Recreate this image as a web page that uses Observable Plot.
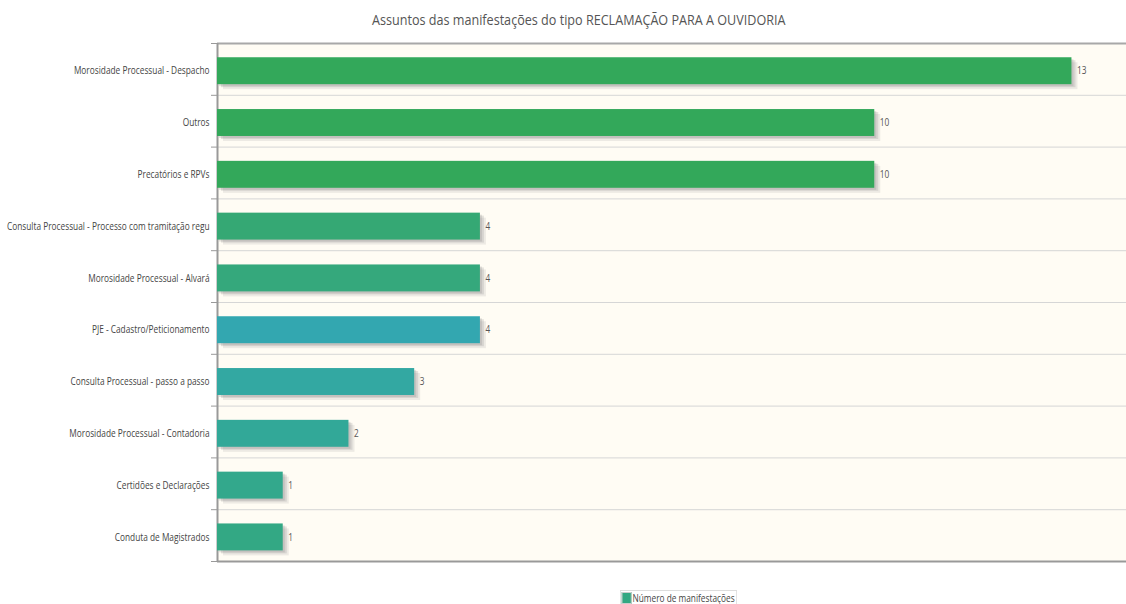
<!DOCTYPE html>
<html>
<head>
<meta charset="utf-8">
<script src="https://cdn.jsdelivr.net/npm/d3@7"></script>
<script src="https://cdn.jsdelivr.net/npm/@observablehq/plot@0.6"></script>
<style>
  body { margin: 0; background: #fff; width: 1126px; height: 604px; overflow: hidden; }
  #title { height: 38px; line-height: 40px; text-align: center; padding-left: 32px; box-sizing: border-box;
           font-family: "Open Sans", sans-serif; font-size: 14px; color: #555; }
  #title span { display: inline-block; transform: scaleX(0.9); white-space: nowrap; }
  #chart svg { display: block; }
  #legend { margin-top: 12px; padding-left: 232px; text-align: center; font-family: "Open Sans", sans-serif; font-size: 10px; color: #444; }
  #legend .item { display: inline-block; border: 1px solid #ddd; padding: 1px 2px 1px 1px; line-height: 12px; transform: scaleX(0.83); white-space: nowrap; }
  #legend .sw { display: inline-block; width: 10px; height: 10px; vertical-align: -2px; margin-right: 1px; border: 1px solid #ccc; }
</style>
</head>
<body>
<div id="title"><span>Assuntos das manifestações do tipo RECLAMAÇÃO PARA A OUVIDORIA</span></div>
<div id="chart"></div>
<div id="legend"></div>
<script>
const categories = [
  "Morosidade Processual - Despacho",
  "Outros",
  "Precatórios e RPVs",
  "Consulta Processual - Processo com tramitação regu",
  "Morosidade Processual - Alvará",
  "PJE - Cadastro/Peticionamento",
  "Consulta Processual - passo a passo",
  "Morosidade Processual - Contadoria",
  "Certidões e Declarações",
  "Conduta de Magistrados"
];
const values = [13, 10, 10, 4, 4, 4, 3, 2, 1, 1];
const colors = ["#33a85a", "#33a85a", "#33a85a", "#35a874", "#35a87c", "#33a7b0", "#33a8a2", "#32a898", "#33a88c", "#33a884"];
const seriesName = "Número de manifestações";
const legendColor = "#33a882";

const data = categories.map((c, i) => ({category: c, value: values[i], color: colors[i], idx: i}));
const xMax = 13.83;
const font = '"Open Sans", sans-serif';
const narrow = 0.83;
const barTop = d => d.idx + 0.275;
const barBot = d => d.idx + 0.795;
const barMid = d => d.idx + 0.535;

const chart = Plot.plot({
  width: 1126,
  height: 540,
  marginLeft: 217,
  marginRight: 0,
  marginTop: 5,
  marginBottom: 17,
  style: {fontFamily: font, fontSize: "10px", color: "#444", background: "transparent"},
  x: {domain: [0, xMax], axis: null},
  y: {domain: [0, categories.length], reverse: true, axis: null},
  marks: [
    Plot.rect([0], {x1: 0, x2: xMax, y1: 0, y2: categories.length, fill: "#fffcf4"}),
    Plot.gridY(d3.range(1, categories.length), {stroke: "#d6d6d6", strokeOpacity: 1, strokeWidth: 1}),
    Plot.axisY(d3.range(0, categories.length + 1), {tickSize: 6, tickFormat: () => "", stroke: "#999"}),
    Plot.ruleY([0], {stroke: "#a8a8a8", strokeWidth: 2}),
    Plot.ruleY([categories.length], {stroke: "#999", strokeWidth: 2}),
    Plot.ruleX([0], {stroke: "#999", strokeWidth: 2}),
    // shadows
    Plot.rectX(data, {x1: 0, x2: "value", y1: barTop, y2: barBot, fill: "#999", fillOpacity: 0.18, dx: 6, dy: 5}),
    Plot.rectX(data, {x1: 0, x2: "value", y1: barTop, y2: barBot, fill: "#888", fillOpacity: 0.22, dx: 4, dy: 3}),
    Plot.rectX(data, {x1: 0, x2: "value", y1: barTop, y2: barBot, fill: "#777", fillOpacity: 0.2, dx: 2, dy: 2}),
    // bars
    Plot.rectX(data, {x1: 0, x2: "value", y1: barTop, y2: barBot, fill: "color"}),
    // category labels
    Plot.text(data, {x: 0, y: barMid, text: "category", textAnchor: "end", dx: -8, fill: "#444", fontSize: 10, className: "catlabel"}),
    // value labels
    Plot.text(data, {x: "value", y: barMid, text: d => String(d.value), textAnchor: "start", dx: 5, fill: "#555", fontSize: 10, className: "vallabel"})
  ]
});
document.getElementById("chart").appendChild(chart);

// condense the label glyphs to mimic the narrow original typeface
chart.querySelectorAll(".catlabel text, .vallabel text").forEach(t => {
  const len = t.getComputedTextLength();
  t.setAttribute("textLength", (len * narrow).toFixed(1));
  t.setAttribute("lengthAdjust", "spacingAndGlyphs");
});

document.getElementById("legend").innerHTML =
  `<span class="item"><span class="sw" style="background:${legendColor}"></span>${seriesName}</span>`;
</script>
</body>
</html>
